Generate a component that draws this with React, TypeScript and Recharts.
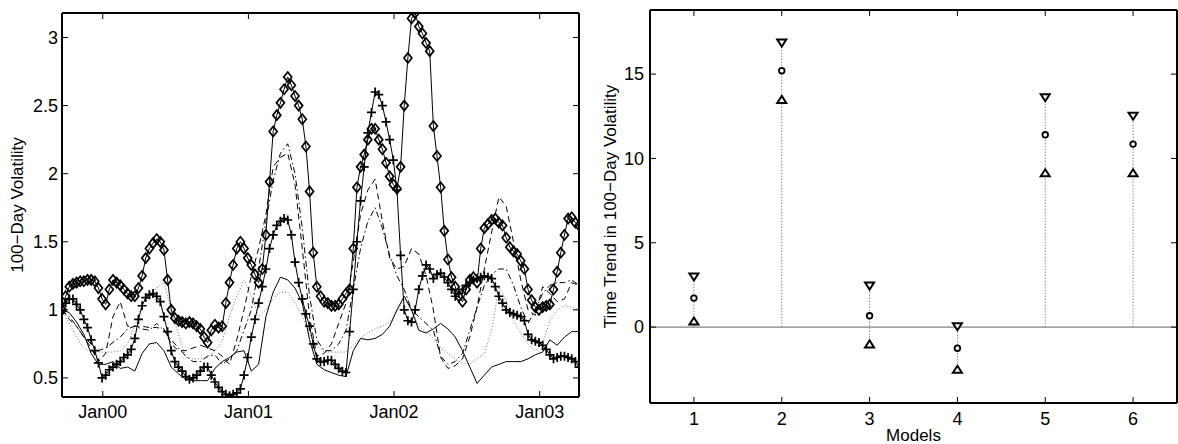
import React from "react";
import { LineChart, ComposedChart, Line, XAxis, YAxis, ReferenceLine } from "recharts";

// time in years since Jan 2000 (thin lines)
const years = [
  -0.28, -0.23, -0.18, -0.13, -0.08, -0.03, 0.02, 0.07, 0.12, 0.17, 0.22, 0.27,
  0.32, 0.37, 0.42, 0.47, 0.52, 0.57, 0.62, 0.67, 0.72, 0.77, 0.82, 0.87,
  0.92, 0.97, 1.02, 1.07, 1.12, 1.17, 1.22, 1.27, 1.32, 1.37, 1.42, 1.47,
  1.52, 1.57, 1.62, 1.67, 1.72, 1.77, 1.82, 1.87, 1.92, 1.97, 2.02, 2.07,
  2.12, 2.17, 2.22, 2.27, 2.32, 2.37, 2.42, 2.47, 2.52, 2.57, 2.62, 2.67,
  2.72, 2.77, 2.82, 2.87, 2.92, 2.97, 3.02, 3.07, 3.12, 3.17, 3.22, 3.27,
];

// finer time grid for the two marker series
const denseYears = [
  -0.28, -0.255, -0.23, -0.205, -0.18, -0.155, -0.13, -0.105, -0.08, -0.055, -0.03, -0.005,
  0.02, 0.045, 0.07, 0.095, 0.12, 0.145, 0.17, 0.195, 0.22, 0.245, 0.27, 0.295,
  0.32, 0.345, 0.37, 0.395, 0.42, 0.445, 0.47, 0.495, 0.52, 0.545, 0.57, 0.595,
  0.62, 0.645, 0.67, 0.695, 0.72, 0.745, 0.77, 0.795, 0.82, 0.845, 0.87, 0.895,
  0.92, 0.945, 0.97, 0.995, 1.02, 1.045, 1.07, 1.095, 1.12, 1.145, 1.17, 1.195,
  1.22, 1.245, 1.27, 1.295, 1.32, 1.345, 1.37, 1.395, 1.42, 1.445, 1.47, 1.495,
  1.52, 1.545, 1.57, 1.595, 1.62, 1.645, 1.67, 1.695, 1.72, 1.745, 1.77, 1.795,
  1.82, 1.845, 1.87, 1.895, 1.92, 1.945, 1.97, 1.995, 2.02, 2.045, 2.07, 2.095,
  2.12, 2.145, 2.17, 2.195, 2.22, 2.245, 2.27, 2.295, 2.32, 2.345, 2.37, 2.395,
  2.42, 2.445, 2.47, 2.495, 2.52, 2.545, 2.57, 2.595, 2.62, 2.645, 2.67, 2.695,
  2.72, 2.745, 2.77, 2.795, 2.82, 2.845, 2.87, 2.895, 2.92, 2.945, 2.97, 2.995,
  3.02, 3.045, 3.07, 3.095, 3.12, 3.145, 3.17, 3.195, 3.22, 3.245, 3.27,
];

const diamondVol = [
  1.0, 1.1, 1.17, 1.19, 1.2, 1.21, 1.21, 1.22, 1.22, 1.21, 1.16, 1.08,
  1.04, 1.15, 1.22, 1.2, 1.18, 1.15, 1.12, 1.1, 1.1, 1.16, 1.25, 1.38,
  1.45, 1.49, 1.52, 1.5, 1.44, 1.22, 1.0, 0.94, 0.92, 0.91, 0.9, 0.91,
  0.9, 0.88, 0.86, 0.8, 0.76, 0.85, 0.89, 0.87, 0.88, 1.05, 1.2, 1.33,
  1.45, 1.5, 1.45, 1.38, 1.33, 1.26, 1.2, 1.3, 1.55, 1.94, 2.31, 2.43,
  2.52, 2.62, 2.71, 2.65, 2.57, 2.5, 2.4, 2.2, 1.87, 1.42, 1.17, 1.1,
  1.06, 1.05, 1.03, 1.03, 1.04, 1.08, 1.12, 1.15, 1.45, 1.9, 2.05, 2.14,
  2.25, 2.33, 2.33, 2.25, 2.18, 2.08, 1.98, 1.92, 1.89, 2.05, 2.5, 2.85,
  3.14, 3.18, 3.08, 3.03, 2.96, 2.9, 2.35, 2.13, 1.9, 1.58, 1.37, 1.24,
  1.17, 1.1, 1.06, 1.15, 1.22, 1.24, 1.2, 1.45, 1.6, 1.63, 1.66, 1.67,
  1.64, 1.62, 1.53, 1.46, 1.43, 1.41, 1.36, 1.3, 1.15, 1.07, 1.02, 1.0,
  1.02, 1.03, 1.04, 1.15, 1.28, 1.42, 1.55, 1.67, 1.68, 1.64, 1.62,
];

const plusVol = [
  1.0, 1.05, 1.08, 1.08, 1.04, 1.0, 0.93, 0.87, 0.78, 0.7, 0.61, 0.5,
  0.52, 0.56, 0.58, 0.6, 0.62, 0.65, 0.67, 0.71, 0.79, 0.93, 1.03, 1.09,
  1.11, 1.12, 1.1, 1.06, 0.95, 0.84, 0.7, 0.62, 0.58, 0.55, 0.51, 0.49,
  0.5, 0.52, 0.55, 0.58, 0.58, 0.52, 0.47, 0.43, 0.4, 0.38, 0.37, 0.38,
  0.39, 0.42, 0.52, 0.65, 0.8, 0.93, 1.05, 1.17, 1.3, 1.45, 1.55, 1.62,
  1.65, 1.67, 1.66, 1.55, 1.35, 1.2, 1.08, 0.97, 0.88, 0.75, 0.64, 0.62,
  0.62, 0.63, 0.63, 0.6, 0.57, 0.55, 0.54, 0.84, 1.15, 1.5, 1.8, 2.05,
  2.3, 2.45, 2.6, 2.58, 2.5, 2.38, 2.25, 2.1, 1.88, 1.4, 1.0, 0.92,
  0.91, 1.0, 1.15, 1.25, 1.33, 1.3, 1.23, 1.26, 1.27, 1.24, 1.2, 1.15,
  1.1, 1.12, 1.15, 1.18, 1.2, 1.22, 1.23, 1.24, 1.25, 1.24, 1.23, 1.17,
  1.1, 1.05, 1.0, 0.98, 0.97, 0.96, 0.95, 0.92, 0.82, 0.78, 0.77, 0.76,
  0.74, 0.71, 0.67, 0.64, 0.65, 0.66, 0.66, 0.65, 0.64, 0.62, 0.58,
];

const dashedVol = [
  1.0, 0.93, 0.88, 0.8, 0.72, 0.62, 0.68, 0.95, 1.06, 0.88, 0.88, 0.88,
  0.87, 0.87, 0.86, 0.75, 0.7, 0.7, 0.72, 0.74, 0.72, 0.7, 0.66, 0.6,
  0.78, 1.0, 1.25, 1.45, 1.7, 2.05, 2.12, 2.15, 1.92, 1.45, 0.95, 0.66,
  0.68, 0.75, 0.9, 1.05, 1.35, 1.7, 1.88, 1.96, 1.65, 1.38, 1.3, 1.32,
  1.45, 1.41, 1.25, 1.0, 0.65, 0.57, 0.59, 0.64, 0.8, 1.02, 1.3, 1.57,
  1.83, 1.76, 1.5, 1.22, 1.0, 0.96, 1.17, 1.12, 1.06, 1.08, 1.2, 1.18,
];

const dashDotVol = [
  1.0, 0.95, 0.88, 0.8, 0.75, 0.7, 0.72, 0.76, 0.8, 0.86, 0.88, 0.86,
  0.85, 0.9, 0.85, 0.78, 0.72, 0.66, 0.62, 0.62, 0.66, 0.67, 0.6, 0.64,
  0.7, 0.85, 1.0, 1.3, 1.65, 1.95, 2.15, 2.22, 2.0, 1.6, 1.1, 0.78,
  0.7, 0.7, 0.75, 0.85, 1.15, 1.45, 1.65, 1.75, 1.6, 1.4, 1.25, 1.15,
  1.0, 0.95, 0.9, 0.85, 0.66, 0.6, 0.62, 0.68, 0.85, 1.02, 1.18, 1.26,
  1.3, 1.3, 1.18, 1.02, 0.9, 1.0, 1.12, 1.18, 1.2, 1.2, 1.22, 1.18,
];

const dottedVol = [
  1.0, 0.9, 0.8, 0.72, 0.69, 0.69, 0.69, 0.69, 0.7, 0.75, 0.88, 1.04,
  1.1, 1.16, 1.2, 1.0, 0.82, 0.65, 0.64, 0.64, 0.65, 0.7, 0.77, 0.95,
  1.1, 1.22, 1.1, 0.95, 1.0, 1.08, 1.13, 1.13, 1.05, 0.95, 0.82, 0.74,
  0.69, 0.69, 0.69, 0.69, 0.74, 0.79, 0.83, 0.86, 0.88, 0.91, 0.99, 1.08,
  1.0, 0.88, 0.84, 0.79, 0.72, 0.68, 0.64, 0.61, 0.6, 0.64, 0.68, 0.85,
  1.17, 1.07, 0.92, 0.83, 0.75, 0.7, 0.75, 0.92, 1.0, 1.03, 1.02, 1.0,
];

const solidVol = [
  1.0, 0.98, 0.91, 0.82, 0.68, 0.6, 0.6, 0.62, 0.57, 0.58, 0.55, 0.68,
  0.75, 0.76, 0.7, 0.58, 0.53, 0.49, 0.48, 0.48, 0.48, 0.57, 0.62, 0.65,
  0.69, 0.7, 0.55, 0.6, 0.95, 1.13, 1.24, 1.22, 1.16, 1.05, 0.78, 0.6,
  0.56, 0.54, 0.52, 0.51, 0.7, 0.79, 0.78, 0.79, 0.82, 0.88, 1.0, 1.1,
  1.0, 0.85, 0.83, 0.86, 0.9, 0.86, 0.8, 0.7, 0.58, 0.46, 0.52, 0.58,
  0.6, 0.62, 0.62, 0.62, 0.64, 0.67, 0.69, 0.78, 0.74, 0.8, 0.84, 0.84,
];

const yearTicks = [0, 1, 2, 3];
const yearLabels = ["Jan00", "Jan01", "Jan02", "Jan03"];
const volTicks = [0.5, 1, 1.5, 2, 2.5, 3];

const models = [1, 2, 3, 4, 5, 6];
const trendHigh = [2.97, 16.84, 2.43, 0.02, 13.6, 12.5];
const trendMid = [1.72, 15.2, 0.67, -1.25, 11.4, 10.85];
const trendLow = [0.36, 13.5, -1.0, -2.5, 9.15, 9.15];
const trendTicks = [0, 5, 10, 15];

const FONT = "'Liberation Sans', Arial, Helvetica, sans-serif";

const volRows = years.map((t, i) => ({
  t,
  dashed: dashedVol[i],
  dashDot: dashDotVol[i],
  dotted: dottedVol[i],
  solid: solidVol[i],
}));

const markerRows = denseYears.map((t, i) => ({
  t,
  diamond: diamondVol[i],
  plus: plusVol[i],
}));

const trendRows = models.map((m, i) => ({
  model: m,
  hi: trendHigh[i],
  mid: trendMid[i],
  lo: trendLow[i],
}));

const tickStyle = { fill: "#000", fontSize: 18, fontFamily: FONT };
const labelStyle = { fill: "#000", fontSize: 17, fontFamily: FONT };

function Diamond(p: any) {
  const { cx, cy } = p;
  if (cx == null || cy == null) return <g key={p.index} />;
  return (
    <path
      key={p.index}
      d={`M${cx},${cy - 5}L${cx + 4},${cy}L${cx},${cy + 5}L${cx - 4},${cy}Z`}
      fill="none"
      stroke="#000"
      strokeWidth={1.7}
    />
  );
}

function Plus(p: any) {
  const { cx, cy } = p;
  if (cx == null || cy == null) return <g key={p.index} />;
  return (
    <path
      key={p.index}
      d={`M${cx - 4.5},${cy}H${cx + 4.5}M${cx},${cy - 4.5}V${cy + 4.5}`}
      stroke="#000"
      strokeWidth={1.7}
      fill="none"
    />
  );
}

function TriDown(p: any) {
  const { cx, cy } = p;
  return (
    <path
      key={p.index}
      d={`M${cx - 4.5},${cy - 3.5}L${cx + 4.5},${cy - 3.5}L${cx},${cy + 3.5}Z`}
      fill="#fff"
      stroke="#000"
      strokeWidth={2}
    />
  );
}

function TriUp(p: any) {
  const { cx, cy } = p;
  return (
    <path
      key={p.index}
      d={`M${cx - 4.5},${cy + 3.5}L${cx + 4.5},${cy + 3.5}L${cx},${cy - 3.5}Z`}
      fill="#fff"
      stroke="#000"
      strokeWidth={2}
    />
  );
}

function Ring(p: any) {
  const { cx, cy } = p;
  return <circle key={p.index} cx={cx} cy={cy} r={2.8} fill="#fff" stroke="#000" strokeWidth={1.8} />;
}

function VolatilityChart() {
  return (
    <LineChart width={590} height={444} data={volRows} margin={{ top: 12, right: 10, bottom: 0, left: 0 }}>
      <XAxis
        xAxisId="x"
        dataKey="t"
        type="number"
        domain={[-0.28, 3.27]}
        allowDataOverflow
        ticks={yearTicks}
        tickFormatter={(v: number) => yearLabels[yearTicks.indexOf(v)] ?? ""}
        height={47}
        stroke="#000"
        axisLine={{ strokeWidth: 2 }}
        tickSize={-6}
        tickMargin={14}
        tick={tickStyle}
      />
      <XAxis
        xAxisId="xt"
        orientation="top"
        dataKey="t"
        type="number"
        domain={[-0.28, 3.27]}
        allowDataOverflow
        ticks={yearTicks}
        tickFormatter={() => ""}
        height={1}
        stroke="#000"
        axisLine={{ strokeWidth: 2 }}
        tickSize={-6}
      />
      <YAxis
        yAxisId="y"
        type="number"
        domain={[0.36, 3.18]}
        allowDataOverflow
        ticks={volTicks}
        width={62}
        stroke="#000"
        axisLine={{ strokeWidth: 2 }}
        tickSize={-6}
        tickMargin={10}
        tick={tickStyle}
        label={{ value: "100\u2212Day Volatility", angle: -90, position: "center", dx: -14, style: labelStyle }}
      />
      <YAxis
        yAxisId="yr"
        orientation="right"
        type="number"
        domain={[0.36, 3.18]}
        allowDataOverflow
        ticks={volTicks}
        tickFormatter={() => ""}
        width={1}
        stroke="#000"
        axisLine={{ strokeWidth: 2 }}
        tickSize={-6}
      />
      <Line xAxisId="xt" yAxisId="yr" dataKey="dotted" stroke="#777" strokeWidth={1} strokeDasharray="1 2" dot={false} activeDot={false} isAnimationActive={false} />
      <Line xAxisId="x" yAxisId="y" dataKey="solid" stroke="#000" strokeWidth={1} dot={false} activeDot={false} isAnimationActive={false} />
      <Line xAxisId="x" yAxisId="y" dataKey="dashed" stroke="#000" strokeWidth={1} strokeDasharray="6 4" dot={false} activeDot={false} isAnimationActive={false} />
      <Line xAxisId="x" yAxisId="y" dataKey="dashDot" stroke="#000" strokeWidth={1} strokeDasharray="6 3 1.5 3" dot={false} activeDot={false} isAnimationActive={false} />
      <Line xAxisId="x" yAxisId="y" data={markerRows} dataKey="plus" stroke="#000" strokeWidth={1} dot={Plus} activeDot={false} isAnimationActive={false} />
      <Line xAxisId="x" yAxisId="y" data={markerRows} dataKey="diamond" stroke="#000" strokeWidth={1} dot={Diamond} activeDot={false} isAnimationActive={false} />
    </LineChart>
  );
}

function TrendChart() {
  return (
    <ComposedChart width={588} height={444} data={trendRows} margin={{ top: 9, right: 0, bottom: 0, left: 0 }}>
      <XAxis
        xAxisId="x"
        dataKey="model"
        type="number"
        domain={[0.5, 6.5]}
        allowDataOverflow
        ticks={models}
        height={41}
        stroke="#000"
        axisLine={{ strokeWidth: 2 }}
        tickSize={-6}
        tickMargin={15}
        tick={tickStyle}
        label={{ value: "Models", position: "insideBottom", offset: 3, style: labelStyle }}
      />
      <XAxis
        xAxisId="xt"
        orientation="top"
        dataKey="model"
        type="number"
        domain={[0.5, 6.5]}
        allowDataOverflow
        ticks={models}
        tickFormatter={() => ""}
        height={1}
        stroke="#000"
        axisLine={{ strokeWidth: 2 }}
        tickSize={-6}
      />
      <YAxis
        yAxisId="y"
        type="number"
        domain={[-4.5, 18.8]}
        allowDataOverflow
        ticks={trendTicks}
        width={60}
        stroke="#000"
        axisLine={{ strokeWidth: 2 }}
        tickSize={-6}
        tickMargin={12}
        tick={tickStyle}
        label={{ value: "Time Trend in 100\u2212Day Volatility", angle: -90, position: "center", dx: -10, style: labelStyle }}
      />
      <YAxis
        yAxisId="yr"
        orientation="right"
        type="number"
        domain={[-4.5, 18.8]}
        allowDataOverflow
        ticks={trendTicks}
        tickFormatter={() => ""}
        width={1}
        stroke="#000"
        axisLine={{ strokeWidth: 2 }}
        tickSize={-6}
      />
      <ReferenceLine xAxisId="x" yAxisId="y" y={0} stroke="#666" strokeWidth={1} />
      {models.map((m, i) => (
        <ReferenceLine
          key={m}
          xAxisId="x"
          yAxisId="y"
          segment={[
            { x: m, y: Math.min(0, trendLow[i]) },
            { x: m, y: Math.max(0, trendHigh[i]) },
          ]}
          stroke="#888"
          strokeWidth={1}
          strokeDasharray="1.5 1.5"
        />
      ))}
      <Line xAxisId="x" yAxisId="y" dataKey="hi" stroke="none" dot={TriDown} activeDot={false} isAnimationActive={false} />
      <Line xAxisId="xt" yAxisId="yr" dataKey="mid" stroke="none" dot={Ring} activeDot={false} isAnimationActive={false} />
      <Line xAxisId="x" yAxisId="y" dataKey="lo" stroke="none" dot={TriUp} activeDot={false} isAnimationActive={false} />
    </ComposedChart>
  );
}

export default function App() {
  return (
    <div
      style={{
        position: "absolute",
        left: 0,
        top: 0,
        width: 1178,
        height: 444,
        background: "#fff",
        fontFamily: FONT,
        overflow: "hidden",
      }}
    >
      <div style={{ position: "absolute", left: 0, top: 0 }}>
        <VolatilityChart />
      </div>
      <div style={{ position: "absolute", left: 590, top: 0 }}>
        <TrendChart />
      </div>
    </div>
  );
}
